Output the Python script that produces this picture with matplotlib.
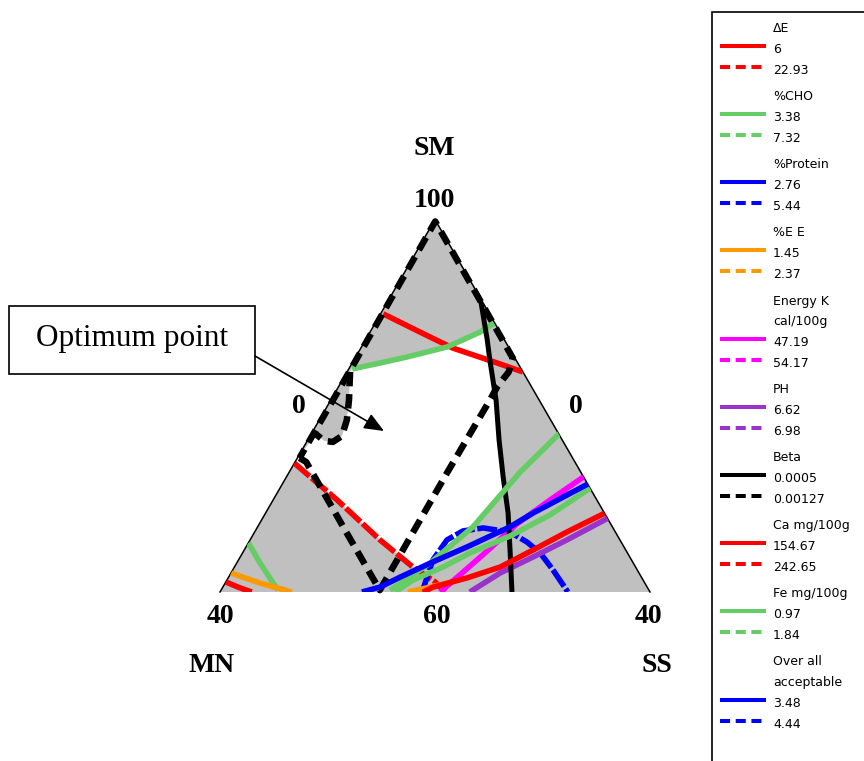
"""
三角図 (SM / MN / SS) 上の等高線の重ね合わせと最適領域
"""

import numpy as np
import matplotlib
matplotlib.use('Agg')
import matplotlib.pyplot as plt
from matplotlib.patches import Polygon, Rectangle

W, H = 864, 761

# 色
RED = '#ff0000'
GREEN = '#66cc66'
BLUE = '#0000ff'
ORANGE = '#ff9900'
MAGENTA = '#ff00ff'
PURPLE = '#9933cc'
BLACK = '#000000'
GRAY = '#c0c0c0'

# ---- データ (SM %, SS %)  MN = 100 - SM - SS ----
# ΔE
de_6_sm = [74.7, 69.8, 65.5, 61.5, 59.1]
de_6_ss = [0.6, 11.6, 21.4, 33.7, 40.9]
de_2293_sm = [34.6, 24.7, 14.0, 6.7, 2.7, 0.0]
de_2293_ss = [0.0, 14.9, 30.2, 41.5, 48.7, 52.3]
# %CHO
cho_338_sm = [59.9, 61.5, 63.1, 65.8, 69.8, 72.2]
cho_338_ss = [0.8, 6.5, 11.9, 19.9, 25.6, 27.6]
cho_732_sm = [13.2, 7.8, 0.5]
cho_732_ss = [0.0, 5.4, 13.2]
# %Protein
pro_544_sm = [0.0, 8.6, 14.0, 16.4, 17.2, 16.1, 13.4, 10.5, 5.9, 0.0]
pro_544_ss = [47.0, 45.2, 45.8, 48.3, 52.6, 59.4, 64.7, 69.2, 74.5, 80.9]
# %E E
ee_145_sm = [5.1, 2.4, 0.0]
ee_145_ss = [0.0, 8.1, 16.7]
ee_237_sm = [0.0, 1.3, 3.0]
ee_237_ss = [43.7, 48.2, 53.2]
# Energy
en_4719_sm = [31.2, 24.7, 18.3, 10.5, 4.6, 0.0]
en_4719_ss = [69.3, 64.4, 59.9, 56.4, 53.5, 51.2]
# PH
ph_662_sm = [20.1, 14.0, 9.4, 5.1, 0.0]
ph_662_ss = [80.6, 73.7, 68.1, 62.6, 58.1]
# Beta
beta_lo_sm = [79.2, 67.7, 62.3, 51.6, 40.8, 30.9, 21.2, 11.3, 0.0]
beta_lo_ss = [20.9, 28.3, 31.6, 38.4, 44.5, 50.4, 56.4, 61.8, 67.9]
beta_hi_sm = [36.0, 34.9, 17.7, 0.5, 10.5, 32.0, 51.6, 55.1, 59.1, 62.8, 99.5, 59.6, 42.4, 36.0]
beta_hi_ss = [0.5, 2.6, 19.7, 36.9, 36.9, 36.8, 37.0, 36.9, 37.6, 36.7, 0.3, 0.5, 0.5, 0.5]
beta_pk_sm = [59.1, 51.6, 46.2, 41.9, 40.3, 40.6, 42.4]
beta_pk_ss = [0.7, 4.2, 6.4, 7.4, 6.1, 3.9, 1.1]
# Ca
ca_15467_sm = [21.5, 16.1, 11.3, 6.7, 3.8, 1.3, 0.0]
ca_15467_ss = [79.3, 72.6, 67.2, 61.8, 55.6, 48.9, 47.2]
ca_24265_sm = [2.7, 1.1, 0.0]
ca_24265_ss = [0.0, 4.1, 7.4]
# Fe
fe_097_sm = [42.7, 32.2, 17.5, 7.8, 0.5]
fe_097_ss = [57.7, 53.7, 50.1, 45.0, 39.3]
fe_184_sm = [28.2, 20.7, 15.0, 10.5, 6.7, 3.2, 0.0]
fe_184_ss = [72.4, 66.4, 59.9, 52.9, 48.5, 43.3, 40.7]
# Over all acceptable
oa_348_sm = [0.0, 1.3, 4.0, 8.1, 12.1, 17.5, 21.2, 29.3]
oa_348_ss = [33.0, 36.5, 39.9, 45.5, 51.4, 58.7, 62.2, 71.4]

# 最適領域 (白)
opt_sm = [59.9, 61.5, 63.1, 65.8, 69.8, 70.7, 67.7, 62.3, 51.6, 40.8, 30.9, 27.4,
          17.5, 7.8, 5.7, 14.0, 24.7, 34.6, 42.4, 40.6, 40.3, 41.9, 46.2, 51.6, 59.1]
opt_ss = [0.8, 6.5, 11.9, 19.9, 25.6, 26.4, 28.3, 31.6, 38.4, 44.5, 50.4, 52.5,
          50.1, 45.0, 43.3, 30.2, 14.9, 0.0, 1.1, 3.9, 6.1, 7.4, 6.4, 4.2, 0.7]

# 凡例
legend_groups = [
    (['ΔE'], ['6', '22.93'], RED),
    (['%CHO'], ['3.38', '7.32'], GREEN),
    (['%Protein'], ['2.76', '5.44'], BLUE),
    (['%E E'], ['1.45', '2.37'], ORANGE),
    (['Energy K', 'cal/100g'], ['47.19', '54.17'], MAGENTA),
    (['PH'], ['6.62', '6.98'], PURPLE),
    (['Beta'], ['0.0005', '0.00127'], BLACK),
    (['Ca mg/100g'], ['154.67', '242.65'], RED),
    (['Fe mg/100g'], ['0.97', '1.84'], GREEN),
    (['Over all', 'acceptable'], ['3.48', '4.44'], BLUE),
]

SERIF = 'Liberation Serif'


def tern(sm, ss):
    """三角座標 -> 直交座標"""
    sm = np.asarray(sm, dtype=float) / 100
    ss = np.asarray(ss, dtype=float) / 100
    return ss + sm / 2, sm * np.sqrt(3) / 2


def curve(ax, sm, ss, color, lw=4.0, dashes=None, clip=None, z=4):
    x, y = tern(sm, ss)
    line, = ax.plot(x, y, color=color, lw=lw, zorder=z,
                    solid_capstyle='butt', solid_joinstyle='round')
    if dashes is not None:
        line.set_linestyle((0, dashes))
        line.set_dash_capstyle('butt')
    if clip is not None:
        line.set_clip_path(clip)
    return line


def ptext(fig, x, y, s, **kw):
    """ピクセル位置 (左上原点) にテキスト"""
    fig.text(x / W, 1 - y / H, s, **kw)


def main():
    fig = plt.figure(figsize=(W / 100, H / 100), dpi=100)
    ax = fig.add_axes([0, 0, 1, 1])
    ax.set_xlim(-220 / 430, (W - 220) / 430)
    ax.set_ylim((592 - H) / 430, 592 / 430)
    ax.axis('off')

    # 三角形
    tx, ty = tern([0, 0, 100], [0, 100, 0])
    tri = Polygon(np.column_stack([tx, ty]), closed=True, fc=GRAY, ec='none', zorder=1)
    ax.add_patch(tri)
    ox, oy = tern(opt_sm, opt_ss)
    ax.add_patch(Polygon(np.column_stack([ox, oy]), closed=True, fc='white',
                         ec='none', zorder=2))
    ax.plot([tx[0], tx[2], tx[1]], [ty[0], ty[2], ty[1]], color=BLACK, lw=1.1, zorder=3)

    long_dash = (3.6, 0.5)
    black_dash = (2.2, 1.2)
    # 凡例の順に描画
    curve(ax, de_6_sm, de_6_ss, RED, clip=tri)
    curve(ax, de_2293_sm, de_2293_ss, RED, dashes=long_dash, clip=tri)
    curve(ax, cho_338_sm, cho_338_ss, GREEN, clip=tri)
    curve(ax, cho_732_sm, cho_732_ss, GREEN, clip=tri)
    curve(ax, pro_544_sm, pro_544_ss, BLUE, dashes=long_dash, clip=tri)
    curve(ax, ee_145_sm, ee_145_ss, ORANGE, clip=tri)
    curve(ax, ee_237_sm, ee_237_ss, ORANGE, clip=tri)
    curve(ax, en_4719_sm, en_4719_ss, MAGENTA, clip=tri)
    curve(ax, ph_662_sm, ph_662_ss, PURPLE, clip=tri)
    curve(ax, beta_lo_sm, beta_lo_ss, BLACK, lw=3.6, clip=tri)
    curve(ax, beta_hi_sm, beta_hi_ss, BLACK, lw=4.7, dashes=black_dash)
    curve(ax, beta_pk_sm, beta_pk_ss, BLACK, lw=4.7, dashes=black_dash)
    curve(ax, ca_24265_sm, ca_24265_ss, RED, clip=tri)
    curve(ax, ca_15467_sm, ca_15467_ss, RED, clip=tri)
    curve(ax, fe_097_sm, fe_097_ss, GREEN, clip=tri)
    curve(ax, fe_184_sm, fe_184_ss, GREEN, clip=tri)
    curve(ax, oa_348_sm, oa_348_ss, BLUE, clip=tri)

    # 軸ラベル
    bold = dict(family=SERIF, fontweight='bold', fontsize=20, ha='center', va='baseline')
    ptext(fig, 434, 155, 'SM', **bold)
    ptext(fig, 434, 207, '100', **bold)
    ptext(fig, 299, 413, '0', **bold)
    ptext(fig, 576, 413, '0', **bold)
    ptext(fig, 220, 623, '40', **bold)
    ptext(fig, 437, 623, '60', **bold)
    ptext(fig, 648, 623, '40', **bold)
    ptext(fig, 212, 672, 'MN', **bold)
    ptext(fig, 657, 672, 'SS', **bold)

    # 重ね描き用 (ピクセル座標)
    ov = fig.add_axes([0, 0, 1, 1])
    ov.set_xlim(0, W)
    ov.set_ylim(H, 0)
    ov.axis('off')

    # Optimum point
    ov.add_patch(Rectangle((9, 306), 246, 68, fc='white', ec=BLACK, lw=1.2, zorder=5))
    ov.text(132, 346, 'Optimum point', family=SERIF, fontsize=22.5,
            ha='center', va='baseline', zorder=6)
    ov.annotate('', xy=(384, 431), xytext=(255, 356),
                arrowprops=dict(arrowstyle='-|>,head_length=0.6,head_width=0.25',
                                mutation_scale=20, color=BLACK, lw=1.2,
                                shrinkA=0, shrinkB=0), zorder=6)

    # 凡例
    ov.add_patch(Rectangle((712, 12), 200, 800, fc='white', ec=BLACK, lw=1.2, zorder=5))
    row = 0
    for g, (title, values, color) in enumerate(legend_groups):
        for t in title:
            y = 28 + 20.8 * row + 5.6 * g
            ov.text(773, y + 4.5, t, fontsize=9, ha='left', va='baseline', zorder=6)
            row += 1
        for k, v in enumerate(values):
            y = 28 + 20.8 * row + 5.6 * g
            ln, = ov.plot([720, 766], [y - 2.5, y - 2.5], color=color, lw=2.9,
                          solid_capstyle='butt', zorder=6)
            if k == 1:
                ln.set_linestyle((0, (2.5, 1.4)))
                ln.set_dash_capstyle('butt')
            ov.text(773, y + 4.5, v, fontsize=9, ha='left', va='baseline', zorder=6)
            row += 1

    fig.savefig('out.png', dpi=100)
    plt.close(fig)


if __name__ == '__main__':
    main()
